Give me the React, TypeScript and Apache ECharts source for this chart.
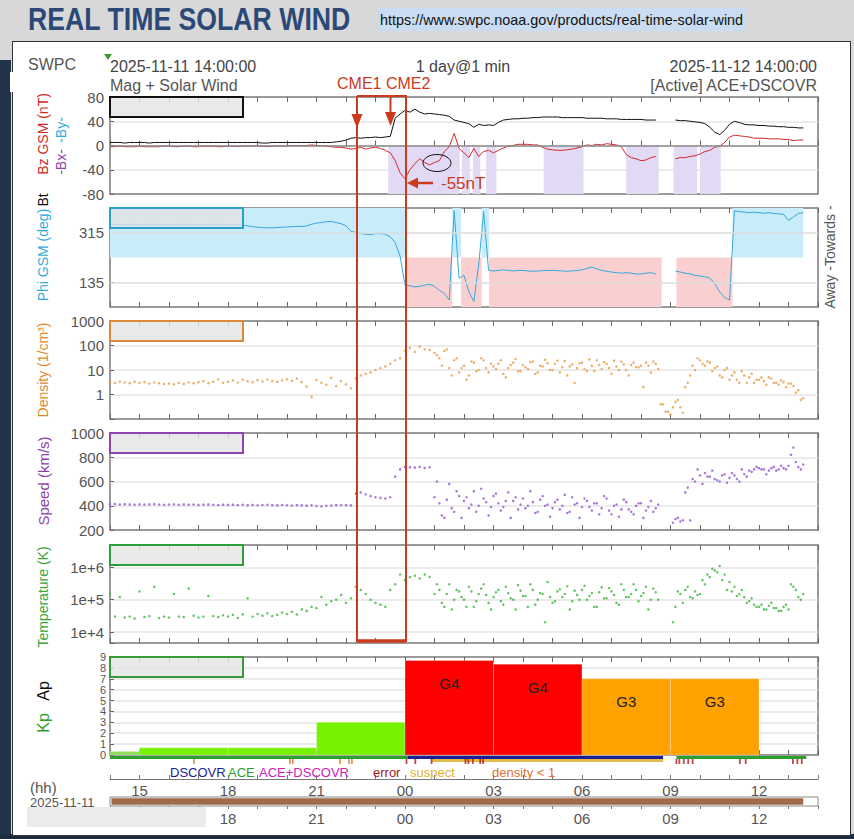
import { useEffect, useRef } from 'react'
import * as echarts from 'echarts'

// 10-minute samples, hours after 2025-11-11 14:00 UTC (0 .. 23.5 h)
const btNt = [
  5, 5, 5, 4, 5, 5, 5, 5, 4, 5, 5, 5,
  5, 5, 5, 5, 5, 5, 5, 5, 5, 5, 5, 5,
  5, 5, 5, 5, 5, 5, 5, 4, 4, 5, 5, 5,
  5, 5, 5, 5, 5, 5, 5, 5, 5, 5, 6, 7,
  9, 12, 13, 12, 13, 13, 14, 13, 14, 15, 45, 52,
  58, 55, 60, 55, 52, 53, 52, 51, 50, 48, 42, 40,
  38, 36, 30, 35, 33, 34, 33, 38, 42, 43, 44, 44,
  45, 45, 46, 46, 47, 47, 47, 47, 46, 46, 46, 46,
  46, 45, 45, 45, 45, 44, 44, 44, 43, 43, 43, 43,
  43, 42, 42, 42, null, null, null, 42, 41, 41, 40, 39,
  38, 36, 30, 22, 18, 25, 35, 40, 38, 35, 34, 34,
  33, 33, 32, 32, 31, 31, 30, 30, 29, 29,
]
const bzNt = [
  -2, -2, -1, -2, -2, -2, -1, -2, -2, -2, -2, -1,
  -1, -2, -2, -1, -1, -2, -2, -1, -1, -1, -2, -2,
  -1, -1, -2, -1, -1, -1, -1, -1, -2, -1, -1, -1,
  -1, 0, 0, 0, 0, 1, 0, 0, -1, -2, -3, -3,
  -4, -6, -5, -3, -6, -4, -3, -5, -8, -12, -25, -45,
  -55, -40, -30, -22, -28, -32, -28, -25, -10, -2, 20, -5,
  -12, -20, -5, -18, -10, -8, -12, -8, -4, -1, 0, 2,
  2, 2, 1, 1, -3, -6, -7, -8, -8, -7, -6, -4,
  -2, 1, 0, 2, 1, 3, 2, 1, -2, -15, -20, -22,
  -25, -24, -20, -18, null, null, null, -22, -20, -20, -18, -17,
  -14, -10, -8, -3, -1, 5, 14, 17, 16, 15, 14, 12,
  12, 12, 11, 11, 11, 10, 10, 8, 9, 9,
]
// plotted on the 45..405 degree range used by SWPC
const phiDeg = [
  346, 345, 345, 344, 346, 345, 344, 345, 346, 345, 344, 345,
  345, 344, 345, 346, 345, 344, 345, 345, 344, 345, 346, 345,
  344, 345, 344, 343, 340, 337, 335, 334, 333, 333, 334, 335,
  336, 337, 338, 338, 340, 346, 350, 352, 355, 356, 352, 348,
  340, 320, 316, 312, 310, 308, 312, 312, 310, 300, 280, 230,
  125, 122, 118, 120, 124, 128, 120, 105, 95, 70, 395, 150,
  160, 100, 65, 200, 392, 178, 176, 178, 180, 178, 176, 178,
  178, 176, 175, 176, 177, 178, 178, 177, 176, 175, 176, 178,
  180, 185, 190, 184, 178, 175, 172, 170, 168, 170, 168, 165,
  165, 168, 170, 165, null, null, null, 176, 172, 168, 165, 160,
  158, 155, 150, 130, 100, 80, 70, 395, 392, 390, 388, 390,
  388, 386, 388, 385, 384, 382, 360, 372, 385, 388,
]
const densityCc = [
  3.2, 3.0, 3.4, 3.1, 2.9, 3.3, 3.0, 3.2, 2.8, 3.1, 2.9, 2.7,
  2.8, 2.6, 3.0, 2.7, 3.1, 2.9, 3.2, 3.5, 2.9, 3.3, 4.2, 3.0,
  3.3, 3.8, 3.1, 4.0, 3.5, 3.2, 3.9, 3.4, 4.1, 3.6, 3.3, 3.8,
  4.2, 3.6, 4.5, 3.2, 2.1, 0.8, 3.9, 3.0, 2.5, 4.8, 2.2, 3.5,
  2.6, 1.8, 4.5, 6, 7, 8, 10, 12, 14, 18, 25, 30,
  60, 80, 55, 90, 70, 65, 50, 30, 60, 12, 25, 8,
  15, 6, 20, 10, 25, 8, 14, 18, 7, 12, 20, 9,
  16, 11, 22, 8, 14, 19, 10, 24, 13, 6, 17, 12,
  20, 9, 15, 25, 11, 18, 7, 14, 22, 10, 16, 13,
  15, 20, 8, 18, 0.4, 0.2, 0.15, 0.5, 0.3, 2, 6, 10,
  25, 15, 20, 12, 6, 10, 4, 8, 3, 6, 5, 3,
  4, 3.5, 5, 3, 2.5, 3.2, 2.8, 2.2, 1.5, 0.7,
]
const speedKms = [
  412, 414, 410, 413, 411, 409, 412, 410, 411, 413, 410, 408,
  410, 412, 408, 411, 409, 410, 407, 409, 411, 408, 406, 409,
  407, 409, 406, 408, 405, 407, 404, 406, 408, 405, 403, 406,
  404, 402, 405, 403, 401, 404, 398, 395, 400, 402, 405, 404,
  405, 403, 500, 510, 495, 480, 470, 465, 460, 470, 640, 700,
  720, 718, 715, 720, 712, 718, 470, 420, 300, 580, 350, 480,
  440, 380, 520, 400, 460, 320, 480, 420, 390, 510, 440, 370,
  460, 400, 430, 350, 480, 410, 380, 450, 400, 340, 470, 420,
  390, 440, 360, 420, 380, 460, 330, 410, 370, 430, 350, 400,
  420, 360, 440, 380, null, null, null, 290, 270, 510, 280, 600,
  650, 670, 640, 620, 600, 660, 630, 650, 600, 660, 690, 700,
  710, 700, 690, 720, 700, 710, 730, 880, 720, 740,
]
const tempK = [
  1.5e5, 3e4, 1.2e5, 2.8e4, 3e4, 2.6e4, 1.8e5, 2.9e4, 3.1e4, 2.5e5, 2.7e4, 3e4,
  2.8e4, 1.5e5, 3e4, 2.9e4, 2.2e5, 3.2e4, 2.8e4, 3e4, 1.3e5, 3.1e4, 2.9e4, 3.3e4,
  3e4, 3.4e4, 2.7e4, 3.5e4, 1.1e5, 3e4, 3.6e4, 3.2e4, 3.8e4, 3.1e4, 3.4e4, 4e4,
  3.6e4, 4.2e4, 3.5e4, 5e4, 4.5e4, 6e4, 5.5e4, 1.2e5, 7e4, 9e4, 1e5, 1.4e5,
  8e4, 1.1e5, 2.5e5, 2e5, 1.5e5, 1e5, 8e4, 7e4, 6e4, 2e5, 3e5, 6e5,
  4e5, 5e5, 5.5e5, 4.5e5, 6e5, 5e5, 1.5e5, 2e5, 6e4, 3e5, 1e5, 1.8e5,
  1e5, 2.5e5, 6e4, 1.5e5, 3e5, 8e4, 1.2e5, 2e5, 7e4, 1.6e5, 1e5, 2.8e5,
  1.3e5, 6e4, 2e5, 1e5, 1.5e5, 3.5e5, 8e4, 1.8e5, 1.2e5, 2.6e5, 9e4, 1.4e5,
  2e5, 1e5, 1.6e5, 6e4, 2.4e5, 1.1e5, 1.8e5, 8e4, 3e5, 1.2e5, 1.5e5, 2e5,
  1.3e5, 2.5e5, 1e5, 1.7e5, null, null, null, 6e4, 1.5e5, 2e5, 1.2e5, 1.8e5,
  1.5e5, 3e5, 5e5, 8e5, 1.1e6, 6e5, 3.5e5, 2.5e5, 1.5e5, 1.2e5, 9e4, 7e4,
  6e4, 5e4, 6.5e4, 5.5e4, 4.5e4, 6e4, 5e4, 2.5e5, 1.2e5, 1.5e5,
]
// extra samples from 11:05 h on (5 min offset) for the scattered plasma clouds
const densityCcB = [
  40, 15, 70, 6, 30, 12, 4, 22, 9, 30, 12, 18,
  11, 25, 5, 16, 28, 9, 13, 21, 7, 15, 26, 10,
  18, 8, 23, 14, 3, 19, 11, 27, 9, 16, 21, 12,
  24, 10, 17, 6, 20, 13, 2, 15, 22, 11, 0.4, 0.2,
  0.3, 0.6, 0.18, 3, 15, 30, 18, 22, 9, 14, 5, 12,
  6, 4, 9, 3, 7, 4, 5, 2.5, 4.5, 3, 3.8, 2,
  2.8, 1.2, 0.6,
]
const speedKmsB = [
  600, 320, 450, 380, 520, 300, 470, 410, 350, 540, 430, 390,
  500, 360, 440, 300, 470, 410, 380, 520, 340, 450, 400, 310,
  430, 370, 490, 350, 410, 300, 460, 390, 420, 330, 480, 360,
  400, 310, 450, 370, 330, 420, 300, 390, 350, 410, null, null,
  260, 300, 280, 550, 620, 700, 580, 640, 690, 610, 650, 590,
  670, 620, 700, 640, 680, 720, 700, 660, 710, 690, 730, 700,
  820, 760, 700,
]
const tempKB = [
  3e5, 8e4, 1.5e5, 5e4, 2e5, 1.2e5, 6e4, 1.8e5, 9e4, 2.2e5, 1.4e5, 5e4,
  1.7e5, 9e4, 2.5e5, 1.1e5, 5e4, 1.9e5, 1.3e5, 3e5, 7e4, 1.6e5, 2e4, 1.2e5,
  9e4, 2.1e5, 1.5e5, 5e4, 1.9e5, 1e5, 2.7e5, 1.3e5, 6e4, 1.7e5, 1.1e5, 2.3e5,
  1.4e5, 7e4, 2e5, 1.2e5, 3e5, 9e4, 1.6e5, 5e4, 2.2e5, 1e5, null, null,
  2e4, 1.8e5, 8e4, 2.5e5, 1.1e5, 1.4e5, 4e5, 6e5, 9e5, 7e5, 4e5, 2e5,
  1.8e5, 1.3e5, 2e5, 8e4, 1.1e5, 6e4, 7e4, 5e4, 8e4, 5.5e4, 4.5e4, 7e4,
  3e5, 2e5, 1e5,
]

// southward Bz shading, IMF sector shading (hours)
const bzSouthStart = [9.43, 11.93, 12.3, 12.75, 14.7, 17.5, 19.1, 20.0]
const bzSouthEnd = [11.85, 12.2, 12.55, 13.1, 16.05, 18.6, 19.9, 20.7]
const awayStart = [0, 11.6, 12.6, 21.1]
const awayEnd = [10.0, 11.9, 12.85, 23.5]
const towardStart = [10.0, 11.9, 12.85, 19.2]
const towardEnd = [11.6, 12.6, 18.7, 21.1]

// 3-hour Kp, period start in hours after 14:00
const kpStart = [-2, 1, 4, 7, 10, 13, 16, 19]
const kpValue = [0.33, 0.67, 0.67, 3, 8.67, 8.33, 7, 7]
const kpEstimated = [true, false, false, false, false, false, false, false]

// data source / quality strip
const srcStart = [0, 10.1, 19.2]
const srcEnd = [10.1, 18.75, 23.6]
const srcName = ['ACE', 'DSCOVR', 'ACE']
const suspectStart = [10.9]
const suspectEnd = [18.75]
const errorAt = [10.05, 10.35, 10.9, 12.05, 12.15, 12.3, 12.55, 12.65, 19.2, 19.3, 19.45, 19.6, 19.75, 21.35, 21.55, 23.15, 23.3, 23.45]
const lowDensityAt = [2.85, 6.1, 6.2, 7.8, 8.1, 8.2]
const coverStart = [0.05]
const coverEnd = [23.5]

const FONT = '"Liberation Sans", Arial, Helvetica, sans-serif'
const CME = '#cc3a1e'

const hoursFrom = (n: number, start = 0) => Array.from({ length: n }, (_, i) => start + i / 6)
const t10 = hoursFrom(btNt.length)
const tB = hoursFrom(densityCcB.length, 11 + 1 / 12)
const pairs = (ts: number[], vs: (number | null)[]) => vs.map((v, i) => [ts[i], v])

function hhLabel(v: number) {
  const hh = (14 + Math.round(v)) % 24
  return hh % 3 === 0 ? String(hh).padStart(2, '0') : ''
}

function gScale(kp: number) {
  if (kp >= 9) return 'G5'
  if (kp >= 8) return 'G4'
  if (kp >= 7) return 'G3'
  if (kp >= 6) return 'G2'
  if (kp >= 5) return 'G1'
  return ''
}

function kpColor(kp: number, estimated: boolean) {
  if (kp >= 8) return '#ff0000'
  if (kp >= 6) return '#ffa200'
  if (kp >= 5) return '#ffee00'
  return estimated ? '#8fdc5c' : '#77f200'
}

const PANELS = [
  { top: 97, height: 97 },
  { top: 208, height: 99 },
  { top: 321, height: 98 },
  { top: 433, height: 97 },
  { top: 545, height: 98 },
  { top: 657, height: 98 },
]
const BOX_COLORS = ['#111111', '#2a9fc9', '#d98b3a', '#8e44ad', '#2f9e3a', '#3a9a3a']

function text(x: number, y: number, t: string, fill: string, fontSize: number, align = 'left', extra: any = {}) {
  return {
    type: 'text', x, y, z: 60,
    style: { text: t, fill, fontSize, fontFamily: FONT, align, verticalAlign: 'middle', ...extra },
  }
}
function vtext(x: number, y: number, t: string, fill: string, fontSize = 14) {
  return {
    type: 'text', x, y, z: 60, rotation: Math.PI / 2,
    style: { text: t, fill, fontSize, fontFamily: FONT, align: 'center', verticalAlign: 'middle' },
  }
}

function buildOption() {
  const tick = { show: true, inside: true, length: 5, lineStyle: { color: '#666' } }
  const xAx = (gridIndex: number, position: string) => ({
    type: 'value', gridIndex, position, min: 0, max: 24, interval: 1,
    axisLine: { show: false }, axisLabel: { show: false }, splitLine: { show: false }, axisTick: tick,
  })
  const hourLabel = { show: true, formatter: hhLabel, color: '#555', fontSize: 15, fontFamily: FONT }

  const xAxes: any[] = []
  PANELS.forEach((_, i) => xAxes.push(xAx(i, 'bottom'), xAx(i, 'top')))
  xAxes.push({ ...xAx(6, 'bottom'), axisTick: { show: false } })
  xAxes.push({
    ...xAx(7, 'bottom'),
    axisLine: { show: true, lineStyle: { color: '#777' } },
    axisTick: { show: true, inside: true, length: 4, lineStyle: { color: '#777' } },
    axisLabel: { ...hourLabel, margin: 4 },
  })
  xAxes.push({
    ...xAx(8, 'bottom'),
    axisTick: { show: true, inside: false, length: 3, lineStyle: { color: '#777' } },
    axisLabel: { ...hourLabel, margin: 5 },
  })

  const yLab = { color: '#555', fontSize: 15, fontFamily: FONT, margin: 6 }
  const ySplit = { show: true, showMinLine: false, showMaxLine: false, lineStyle: { color: '#e4e4e4', width: 1.5 } }
  const yTick = { show: true, inside: true, length: 4, lineStyle: { color: '#666' } }
  const yBase = { axisLine: { show: false }, axisTick: yTick, splitLine: ySplit }
  const expLabel = (v: number) => {
    const e = Math.log10(v)
    const r = Math.round(e)
    return Math.abs(e - r) < 1e-3 && r >= 4 && r <= 6 ? `1e+${r}` : ''
  }

  const yAxes = [
    { ...yBase, gridIndex: 0, type: 'value', min: -80, max: 80, interval: 40, axisLabel: { ...yLab, formatter: (v: number) => String(v) } },
    {
      ...yBase, gridIndex: 1, type: 'value', min: 45, max: 405, interval: 45, splitLine: { show: false },
      axisLabel: { ...yLab, customValues: [135, 315], formatter: (v: number) => (v === 135 || v === 315 ? String(v) : '') },
      axisTick: { ...yTick, customValues: [135, 315] },
    },
    { ...yBase, gridIndex: 2, type: 'log', logBase: 10, min: 0.1, max: 1000, axisLabel: { ...yLab, formatter: (v: number) => (v >= 0.99 ? String(Math.round(v)) : '') } },
    { ...yBase, gridIndex: 3, type: 'value', min: 200, max: 1000, interval: 200, axisLabel: { ...yLab, formatter: (v: number) => String(v) } },
    { ...yBase, gridIndex: 4, type: 'log', logBase: 10, min: 4570, max: 4.9e6, axisLabel: { ...yLab, formatter: expLabel } },
    {
      ...yBase, gridIndex: 5, type: 'value', min: 0, max: 9, interval: 1,
      axisLabel: { ...yLab, fontSize: 11, lineHeight: 10, margin: 4, showMinLabel: true, showMaxLabel: true },
    },
    { gridIndex: 6, type: 'value', min: 0, max: 10, inverse: true, show: false },
    { gridIndex: 7, type: 'value', min: 0, max: 1, show: false },
    { gridIndex: 8, type: 'value', min: 0, max: 1, show: false },
  ]

  const grids = [
    ...PANELS.map((p) => ({ left: 110, right: 36, top: p.top, height: p.height, show: true, backgroundColor: '#fff', borderColor: '#7a7a7a', borderWidth: 1.5 })),
    { left: 110, right: 36, top: 756, height: 10 },
    { left: 110, right: 36, top: 771, height: 8 },
    { left: 110, right: 36, top: 797, height: 9, show: true, backgroundColor: '#fff', borderColor: '#888', borderWidth: 1 },
  ]

  const interval = (yTop: number, yBottom: number, fill: (i: number) => string) => (params: any, api: any) => {
    const a = api.coord([api.value(0), yTop])
    const b = api.coord([api.value(1), yBottom])
    return {
      type: 'rect',
      shape: { x: a[0], y: Math.min(a[1], b[1]), width: b[0] - a[0], height: Math.abs(b[1] - a[1]) },
      style: { fill: fill(params.dataIndex) },
    }
  }

  const series: any[] = [
    {
      type: 'line', xAxisIndex: 0, yAxisIndex: 0, data: [], z: 1, silent: true,
      markArea: {
        silent: true, itemStyle: { color: '#e2daf5' },
        data: bzSouthStart.map((s, i) => [{ xAxis: s, yAxis: -80 }, { xAxis: bzSouthEnd[i], yAxis: 0 }]),
      },
      markLine: {
        silent: true, symbol: ['none', 'none'], label: { show: false },
        lineStyle: { color: '#8a8a8a', width: 1.5, type: 'solid' }, data: [{ yAxis: 0 }],
      },
    },
    { name: 'Bt', type: 'line', xAxisIndex: 0, yAxisIndex: 0, data: pairs(t10, btNt), showSymbol: false, lineStyle: { color: '#111', width: 1 }, z: 3 },
    { name: 'Bz', type: 'line', xAxisIndex: 0, yAxisIndex: 0, data: pairs(t10, bzNt), showSymbol: false, lineStyle: { color: '#d42a2a', width: 1 }, z: 3 },
    {
      type: 'line', xAxisIndex: 2, yAxisIndex: 1, data: [], z: 1, silent: true,
      markArea: {
        silent: true,
        data: [
          ...awayStart.map((s, i) => [{ xAxis: s, yAxis: 225, itemStyle: { color: '#c8ecf9' } }, { xAxis: awayEnd[i], yAxis: 405 }]),
          ...towardStart.map((s, i) => [{ xAxis: s, yAxis: 45, itemStyle: { color: '#f9cfd0' } }, { xAxis: towardEnd[i], yAxis: 225 }]),
        ],
      },
      markLine: {
        silent: true, symbol: ['none', 'none'], label: { show: false },
        lineStyle: { color: '#dcdcdc', width: 1.5, type: 'solid' }, data: [{ yAxis: 135 }, { yAxis: 315 }],
      },
    },
    { name: 'Phi', type: 'line', xAxisIndex: 2, yAxisIndex: 1, data: pairs(t10, phiDeg), showSymbol: false, lineStyle: { color: '#35a9dc', width: 1 }, z: 3 },
    {
      name: 'Density', type: 'scatter', xAxisIndex: 4, yAxisIndex: 2, symbolSize: 2.5,
      itemStyle: { color: '#e99a45' }, data: [...pairs(t10, densityCc), ...pairs(tB, densityCcB)],
    },
    {
      name: 'Speed', type: 'scatter', xAxisIndex: 6, yAxisIndex: 3, symbolSize: 2.5,
      itemStyle: { color: '#9552cf' }, data: [...pairs(t10, speedKms), ...pairs(tB, speedKmsB)],
    },
    {
      name: 'Temperature', type: 'scatter', xAxisIndex: 8, yAxisIndex: 4, symbolSize: 2.5,
      itemStyle: { color: '#3cb43c' }, data: [...pairs(t10, tempK), ...pairs(tB, tempKB)],
    },
    {
      name: 'Kp', type: 'custom', xAxisIndex: 10, yAxisIndex: 5,
      data: kpStart.map((s, i) => [s, kpValue[i]]),
      renderItem: (params: any, api: any) => {
        const i = params.dataIndex
        const s = api.value(0)
        const k = api.value(1)
        const a = api.coord([Math.max(s, 0), k])
        const b = api.coord([s + 3, 0])
        const children: any[] = [{
          type: 'rect',
          shape: { x: a[0], y: a[1], width: b[0] - a[0], height: b[1] - a[1] },
          style: { fill: kpColor(k, kpEstimated[i]), stroke: 'rgba(255,255,255,0.5)', lineWidth: 0.5 },
        }]
        const g = gScale(k)
        if (g) {
          children.push({
            type: 'text', x: (a[0] + b[0]) / 2, y: a[1] + 23,
            style: { text: g, fill: '#222', fontSize: 15, fontFamily: FONT, align: 'center', verticalAlign: 'middle' },
          })
        }
        return { type: 'group', children }
      },
    },
    {
      type: 'custom', xAxisIndex: 12, yAxisIndex: 6, silent: true,
      data: srcStart.map((s, i) => [s, srcEnd[i]]),
      renderItem: interval(0, 3, (i) => (srcName[i] === 'DSCOVR' ? '#1d1d96' : '#2ca02c')),
    },
    {
      type: 'custom', xAxisIndex: 12, yAxisIndex: 6, silent: true,
      data: suspectStart.map((s, i) => [s, suspectEnd[i]]),
      renderItem: interval(3, 6, () => '#e2bc4a'),
    },
    {
      type: 'scatter', xAxisIndex: 12, yAxisIndex: 6, silent: true, symbol: 'rect', symbolSize: [1.8, 5],
      itemStyle: { color: '#b01c1c' }, data: errorAt.map((h) => [h, 5.5]),
    },
    {
      type: 'scatter', xAxisIndex: 12, yAxisIndex: 6, silent: true, symbol: 'rect', symbolSize: [1.8, 5],
      itemStyle: { color: '#e07a30' }, data: lowDensityAt.map((h) => [h, 5.5]),
    },
    {
      type: 'custom', xAxisIndex: 14, yAxisIndex: 8, silent: true,
      data: coverStart.map((s, i) => [s, coverEnd[i]]),
      renderItem: interval(0.85, 0.15, () => '#a06a48'),
    },
  ]

  const boxes = PANELS.map((p, i) => ({
    type: 'rect', z: 55,
    shape: { x: 110, y: p.top, width: 133, height: 20 },
    style: { fill: 'rgba(228,228,228,0.8)', stroke: BOX_COLORS[i], lineWidth: 2 },
  }))

  const graphic: any[] = [
    {
      type: 'text', x: 28, y: 19, z: 60, scaleX: 0.86,
      style: { text: 'REAL TIME SOLAR WIND', fill: '#2b4877', fontSize: 31, fontWeight: 'bold', fontFamily: FONT, verticalAlign: 'middle' },
    },
    { type: 'rect', z: 58, shape: { x: 377, y: 8, width: 369, height: 23 }, style: { fill: '#cadcf1' } },
    text(380, 19.5, 'https://www.swpc.noaa.gov/products/real-time-solar-wind', '#111', 14.4),
    { type: 'rect', z: 58, shape: { x: 10, y: 72, width: 50, height: 20 }, style: { fill: '#fff' } },
    text(28, 64, 'SWPC', '#555', 16),
    { type: 'polygon', z: 60, shape: { points: [[104, 54], [112, 54], [108, 60]] }, style: { fill: '#3a9a3a' } },
    text(110, 66, '2025-11-11 14:00:00', '#444', 16),
    text(463, 66, '1 day@1 min', '#444', 16, 'center'),
    text(817, 66, '2025-11-12 14:00:00', '#444', 16, 'right'),
    text(110, 85, 'Mag + Solar Wind', '#555', 16),
    text(817, 85, '[Active] ACE+DSCOVR', '#555', 16, 'right'),

    vtext(43, 134, 'Bz GSM (nT)', '#d02c2c'),
    vtext(61, 162, '-Bx-', '#8e44ad'),
    vtext(61, 130, '-By-', '#35a9dc'),
    vtext(43, 200, 'Bt', '#111'),
    vtext(43, 255, 'Phi GSM (deg)', '#35a9dc'),
    vtext(830, 257, 'Away -Towards -', '#555'),
    vtext(43, 370, 'Density (1/cm³)', '#e08a2e'),
    vtext(43, 481, 'Speed (km/s)', '#8e44ad', 15),
    vtext(43, 597, 'Temperature (K)', '#3aa53a'),
    vtext(43, 691, 'Ap', '#111', 16),
    vtext(43, 723, 'Kp', '#2ea02e', 16),

    ...boxes,

    text(170, 772, 'DSCOVR', '#1d1d96', 13),
    text(228, 772, 'ACE', '#2ca02c', 13),
    text(259, 772, 'ACE+DSCOVR', '#d020c0', 13),
    text(373, 772, 'error', '#a01818', 13),
    text(410, 772, 'suspect', '#e0b030', 13),
    text(492, 772, 'density < 1', '#e07030', 13),
    text(30, 787, '(hh)', '#555', 15),
    text(30, 802, '2025-11-11', '#555', 13),
    { type: 'rect', z: 62, shape: { x: 27, y: 807, width: 179, height: 20 }, style: { fill: '#ebebeb' } },

    // CME annotation
    text(337, 83, 'CME1 CME2', CME, 16),
    {
      type: 'polyline', z: 70,
      shape: { points: [[357, 96], [406, 96], [406, 641], [357, 641], [357, 96]] },
      style: { stroke: CME, lineWidth: 2, fill: 'none' },
    },
    { type: 'line', z: 70, shape: { x1: 357, y1: 641, x2: 406, y2: 641 }, style: { stroke: CME, lineWidth: 3.5 } },
    { type: 'polygon', z: 70, shape: { points: [[351.5, 114], [362.5, 114], [357, 128]] }, style: { fill: CME } },
    { type: 'line', z: 70, shape: { x1: 390.5, y1: 96, x2: 390.5, y2: 114 }, style: { stroke: CME, lineWidth: 2 } },
    { type: 'polygon', z: 70, shape: { points: [[385, 112], [396, 112], [390.5, 126]] }, style: { fill: CME } },
    { type: 'line', z: 70, shape: { x1: 433, y1: 183, x2: 416, y2: 183 }, style: { stroke: CME, lineWidth: 2.5 } },
    { type: 'polygon', z: 70, shape: { points: [[407, 183], [418, 177.5], [418, 188.5]] }, style: { fill: CME } },
    text(441, 183, '-55nT', CME, 17),
    { type: 'ellipse', z: 70, shape: { cx: 437, cy: 163, rx: 14, ry: 8.5 }, style: { fill: 'none', stroke: '#111', lineWidth: 1 } },
  ]

  return { animation: false, grid: grids, xAxis: xAxes, yAxis: yAxes, series, graphic }
}

export default function App() {
  const chartRef = useRef<HTMLDivElement>(null)

  useEffect(() => {
    if (!chartRef.current) return
    const chart = echarts.init(chartRef.current, undefined, { renderer: 'svg' })
    chart.setOption(buildOption() as any)
    return () => {
      chart.dispose()
    }
  }, [])

  return (
    <div style={{ position: 'fixed', left: 0, top: 0, width: 854, height: 839, background: '#d8d8d8', overflow: 'hidden' }}>
      <div style={{ position: 'absolute', left: 0, top: 60, width: 11, height: 779, background: '#22324a' }} />
      <div style={{ position: 'absolute', left: 0, top: 834, width: 854, height: 5, background: '#1e2c40' }} />
      <div style={{ position: 'absolute', left: 12, top: 41, width: 837, height: 793, background: '#fff', border: '1px solid #333' }} />
      <div ref={chartRef} style={{ position: 'absolute', left: 0, top: 0, width: 854, height: 839 }} />
    </div>
  )
}
